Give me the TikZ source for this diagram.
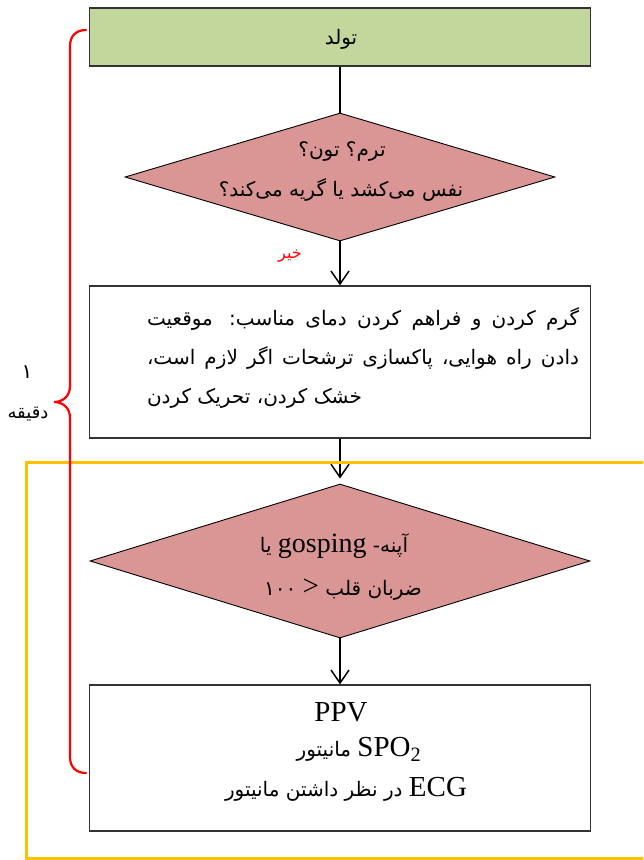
\documentclass[tikz,border=0pt]{standalone}
\usepackage{fontspec}
\setmainfont{Liberation Serif}
\newfontfamily\ar[Script=Arabic]{DejaVu Sans}
\TeXXeTstate=1
\usetikzlibrary{shapes.geometric,arrows.meta}
\definecolor{greenc}{HTML}{C3D69B}
\definecolor{pinkc}{HTML}{D99694}
\definecolor{orangec}{HTML}{FFC000}
\definecolor{bracec}{HTML}{FF0000}
\newcommand\pfont{\ar\fontsize{20}{24}\selectfont}
\newcommand\lfont{\rmfamily\fontsize{29}{32}\selectfont}
\newcommand\jline[1]{\hbox to 432pt{\beginR #1\endR}}
\newcommand\lline[1]{\hbox to 432pt{\beginR #1\endR\hfil}}
\begin{document}
\begin{tikzpicture}[x=1pt,y=-1pt,
  box/.style={draw=black!80,line width=1.3pt,minimum width=501pt,inner sep=0pt},
  dia/.style={diamond,draw=black,line width=0.9pt,fill=pinkc,inner sep=0pt},
  ptxt/.style={font=\pfont,inner sep=0pt},
  ltxt/.style={font=\lfont,inner sep=0pt},
  conn/.style={line width=1.5pt,black},
  arr/.style={conn,-{Straight Barb[length=13pt,width=18pt,line width=1.5pt]}}]
\path[use as bounding box] (0,0) rectangle (643,860);
\clip (0,0) rectangle (643,860);

% nodes
\node[box,fill=greenc,minimum height=58pt] (g) at (340,37) {};
\node[ptxt] (gt) at (341,39) {تولد};

\node[dia,minimum width=430pt,minimum height=128pt] (d1) at (340,177) {};
\node[ptxt] (d1a) at (342,152) {\beginR ترم؟ تون؟\endR};
\node[ptxt] (d1b) at (341,190) {\beginR نفس می‌کشد یا گریه می‌کند؟\endR};

\node[ptxt,text=red,font=\ar\fontsize{16}{18}\selectfont] (no) at (290,256) {خیر};

\node[box,minimum height=152pt] (b2) at (340,362) {};
\node[ptxt] (b2t) at (363,358) {\vbox{\baselineskip=39pt
  \jline{گرم کردن و فراهم کردن دمای مناسب: موقعیت}
  \jline{دادن راه هوایی، پاکسازی ترشحات اگر لازم است،}
  \lline{خشک کردن، تحریک کردن}}};

\node[dia,minimum width=500pt,minimum height=154pt] (d2) at (340,561) {};
\node[ptxt] (d2a) at (334,546) {\beginR آپنه- \beginL{\rmfamily\fontsize{28}{30}\selectfont gosping}\endL{} یا\endR};
\node[ptxt] (d2b) at (343,590) {\beginR ضربان قلب {\lfont >} ۱۰۰\endR};

\node[box,minimum height=146pt] (b3) at (340,758) {};
\node[ltxt] (b3a) at (341,712) {PPV};
\node[ptxt] (b3b) at (359,749) {مانیتور {\lfont SPO\textsubscript{2}}};
\node[ptxt] (b3c) at (346,789) {{\beginR در نظر داشتن مانیتور\endR} {\lfont ECG}};

% connectors
\draw[conn] (g.south) -- (d1.north);
\draw[arr] (d1.south) -- (b2.north);
\draw[arr,shorten >=5pt] (b2.south) -- (d2.north);
\draw[arr] (d2.south) -- (b3.north);

% orange frame
\draw[orangec,line width=3pt] (660,462) -- (26,462) -- (26,858) -- (660,858);

% brace
\draw[bracec,line width=2.2pt,line cap=round]
  (86,30) .. controls (76,30) and (70,36) .. (70,46) -- (70,386)
  .. controls (70,396) and (63,402) .. (54,402)
  .. controls (63,402) and (70,408) .. (70,418) -- (70,757)
  .. controls (70,767) and (76,773) .. (86,773);
\node[ptxt] (m1) at (27,372) {۱};
\node[ptxt,font=\ar\fontsize{18}{20}\selectfont] (m2) at (28,414) {دقیقه};
\end{tikzpicture}
\end{document}
